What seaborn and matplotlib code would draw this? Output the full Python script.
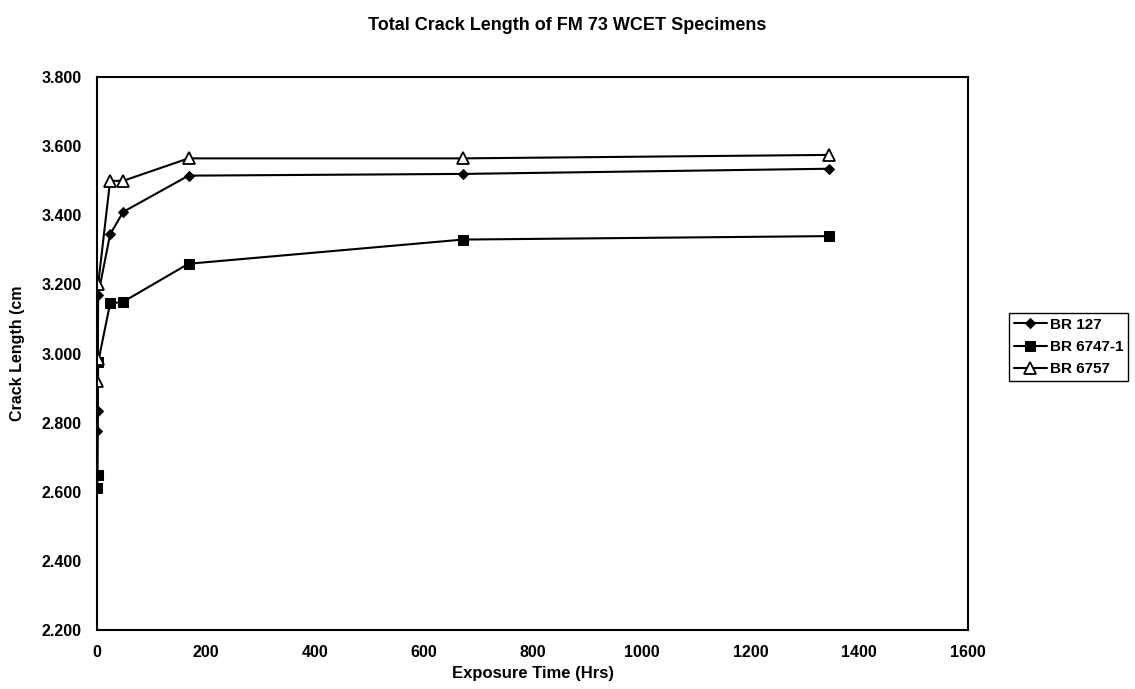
import pandas as pd
import numpy as np
import seaborn as sns
import matplotlib.pyplot as plt
from matplotlib.ticker import FormatStrFormatter

# ========== DATA ==========
hours = [0, 1, 2, 24, 48, 168, 672, 1344]
br_127 = [2.775, 2.835, 3.17, 3.345, 3.41, 3.515, 3.52, 3.535]
br_6747_1 = [2.61, 2.65, 2.975, 3.145, 3.15, 3.26, 3.33, 3.34]
br_6757 = [2.92, 2.985, 3.20, 3.50, 3.50, 3.565, 3.565, 3.575]
series_names = ['BR 127', 'BR 6747-1', 'BR 6757']

df = pd.DataFrame({
    'hours': hours * 3,
    'length': br_127 + br_6747_1 + br_6757,
    'specimen': np.repeat(series_names, len(hours)),
})

sns.set_style('white')
plt.rcParams['font.family'] = ['Liberation Sans', 'DejaVu Sans']
plt.rcParams['text.color'] = 'black'
plt.rcParams['axes.labelcolor'] = 'black'

fig = plt.figure(figsize=(11.35, 6.89), dpi=100)
ax = fig.add_axes([0.0855, 0.0856, 0.7675, 0.8024])

sns.lineplot(data=df, x='hours', y='length', hue='specimen', style='specimen',
             palette={n: 'black' for n in series_names},
             markers={'BR 127': 'D', 'BR 6747-1': 's', 'BR 6757': '^'},
             dashes=False, sort=False, linewidth=1.5, markersize=6,
             markeredgecolor='black', legend=False, ax=ax)

# open triangles for BR 6757
lines = ax.lines[:3]
lines[0].set_markersize(5.5)
lines[1].set_markersize(6.5)
lines[2].set_markerfacecolor('white')
lines[2].set_markersize(8)
lines[2].set_markeredgewidth(1.3)

ax.set_xlim(0, 1600)
ax.set_ylim(2.2, 3.8)
ax.set_xticks(np.arange(0, 1601, 200))
ax.set_yticks(np.arange(2.2, 3.81, 0.2))
ax.yaxis.set_major_formatter(FormatStrFormatter('%.3f'))
ax.tick_params(direction='inout', length=8, width=1, colors='black',
               labelsize=11.5)
ax.tick_params(axis='y', pad=7)
ax.tick_params(axis='x', pad=7)
for lab in ax.get_xticklabels() + ax.get_yticklabels():
    lab.set_fontweight('bold')
for side in ax.spines.values():
    side.set_color('black')
    side.set_linewidth(1.5)

fig.suptitle('Total Crack Length of FM 73 WCET Specimens', fontweight='bold',
             fontsize=13, x=0.5, y=1 - 26 / 689, va='center')
ax.set_xlabel('Exposure Time (Hrs)', fontweight='bold', fontsize=12, labelpad=4)
ax.set_ylabel('Crack Length (cm', fontweight='bold', fontsize=11.5, labelpad=12)

leg = ax.legend(lines, series_names, loc='upper left',
                bbox_to_anchor=(1009 / 1135, 1 - 313 / 689),
                bbox_transform=fig.transFigure, borderaxespad=0,
                fancybox=False, edgecolor='black', framealpha=1,
                handlelength=2.2, handletextpad=0.2, borderpad=0.3,
                labelspacing=0.55, prop={'weight': 'bold', 'size': 11})
leg.get_frame().set_linewidth(1.0)

fig.savefig('out.png', dpi=100)
